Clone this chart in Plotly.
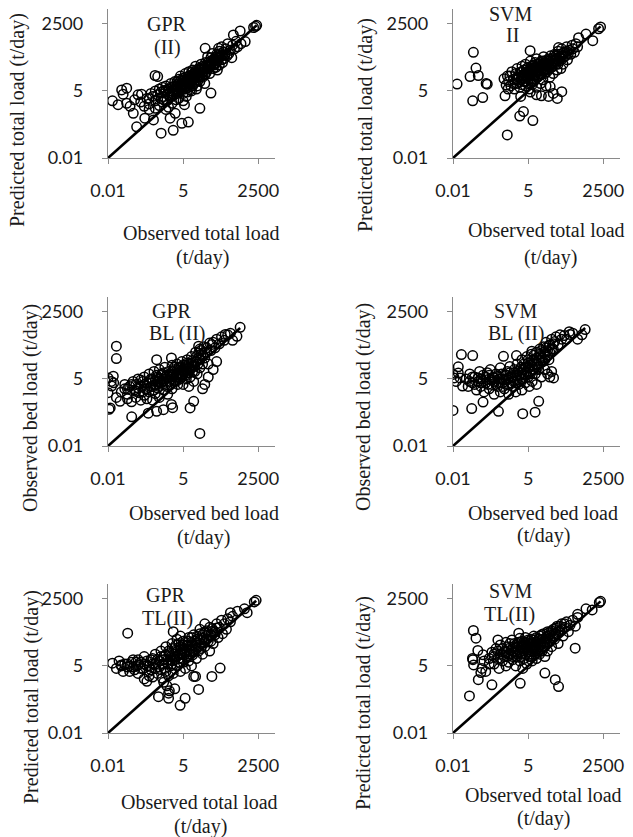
import plotly.graph_objects as go

# ---------------- data (observed, predicted) ----------------
gpr_ii = [
    (0.0144, 2.0), (0.031, 5.5), (0.047, 6.5), (0.035, 3.7), (0.047, 1.6), (0.023, 1.4), (0.062, 1.2),
    (0.12, 3.5), (0.16, 3.7), (0.081, 0.63), (0.107, 0.18), (0.21, 0.4), (0.43, 0.34), (0.49, 21),
    (0.61, 19), (0.81, 0.1), (1.7, 0.4), (2.2, 0.13), (2.6, 0.63), (4.5, 0.25), (7.7, 0.28), (5.6, 1.4),
    (20, 1.0), (50, 4.1), (31, 260), (94, 260), (320, 900), (560, 1300), (850, 490), (1700, 1800),
    (2000, 2000), (0.09, 2.2), (0.2, 1.2), (0.3, 0.9), (0.15, 1.8), (0.25, 2.5),
    (0.3, 1.5), (0.5, 1.0), (0.7, 1.3), (1.2, 0.9), (1.5, 1.1), (0.9, 1.8),
    (0.3, 2.5), (0.35, 4), (0.4, 3), (0.5, 5), (0.5, 2), (0.6, 3.5), (0.7, 6), (0.8, 2.5), (0.8, 4.5),
    (0.9, 7), (1, 3), (1, 5), (1.2, 8), (1.3, 2), (1.4, 4), (1.5, 6), (1.7, 3), (1.8, 10), (2, 5),
    (2, 1.6), (2.2, 7), (2.4, 3.5), (2.5, 12), (2.7, 6), (3, 4), (3, 9), (3.5, 15), (3.5, 2.5), (4, 6),
    (4, 20), (4.5, 10), (5, 4), (5, 8), (5.5, 14), (6, 25), (6, 6), (6.5, 3), (7, 11), (7.5, 18), (8, 7),
    (8, 30), (9, 13), (10, 5), (10, 20), (11, 35), (12, 10), (13, 16), (14, 50), (15, 25), (16, 8),
    (18, 20), (20, 40), (20, 12), (22, 60), (25, 30), (25, 18), (28, 45), (30, 10), (32, 70), (35, 30),
    (38, 120), (40, 50), (45, 25), (50, 80), (55, 160), (60, 40), (65, 100), (70, 60), (80, 150),
    (85, 35), (90, 90), (100, 200), (100, 55), (110, 120), (120, 300), (130, 70), (140, 180), (150, 100),
    (170, 250), (190, 130), (200, 400), (220, 160), (250, 220), (280, 110), (300, 350), (350, 250),
    (400, 500), (450, 300), (600, 400), (2200, 2200), (1.1, 4.5), (2.8, 2.2), (3.8, 8), (6, 12),
    (9, 5.5), (12, 25), (17, 13), (30, 22), (45, 60), (75, 45), (120, 90), (160, 140), (5, 2), (2, 3),
    (7, 4.5), (15, 6),
    (1, 2.2), (1.2, 5.5), (1.5, 3.5), (1.8, 7), (2, 4), (2.5, 5), (2.5, 8), (3, 6), (3, 12), (3.5, 5),
    (3.5, 10), (4, 8), (4, 13), (4.5, 5.5), (5, 12), (5, 16), (5.5, 7), (6, 9), (6, 18), (7, 8), (7, 14),
    (8, 10), (8, 20), (9, 9), (9, 16), (10, 12), (10, 28), (11, 8), (12, 15), (12, 20), (13, 28),
    (14, 12), (15, 18), (15, 35), (17, 25), (18, 40), (20, 18), (20, 28), (22, 35), (24, 22), (25, 50),
    (28, 30), (30, 40), (32, 25), (35, 55), (38, 40), (40, 70), (45, 45), (50, 55), (50, 110), (55, 70),
    (60, 90), (65, 55), (70, 85), (75, 120), (80, 70), (90, 130), (100, 110), (110, 160), (130, 140),
]

svm_ii = [
    (0.014, 9.5), (0.054, 180), (0.067, 42), (0.041, 19), (0.081, 21), (0.155, 10), (0.17, 9.4),
    (0.051, 2.0), (0.117, 2.7), (0.68, 15.5), (0.81, 8.7), (0.74, 3.2), (0.89, 0.085), (2.5, 0.49),
    (3.4, 0.74), (7.4, 0.32), (2.7, 3.0), (5.9, 210), (10, 3.5), (27, 3.0), (56, 2.5), (81, 4.7),
    (31, 7.5), (62, 280), (325, 700), (600, 980), (1050, 530), (1700, 1600), (2000, 1900), (15, 3.2),
    (40, 4), (6, 4.5), (0.9, 20), (0.95, 6),
    (1, 12), (1.1, 20), (1.2, 8), (1.3, 30), (1.5, 15), (1.6, 6), (1.8, 25), (2, 10), (2, 40), (2.2, 18),
    (2.5, 7), (2.5, 28), (2.8, 14), (3, 50), (3, 9), (3.2, 22), (3.5, 35), (3.5, 12), (4, 8), (4, 60),
    (4.5, 18), (4.5, 30), (5, 10), (5, 45), (5.5, 6), (5.5, 25), (6, 80), (6, 15), (7, 35), (7, 9),
    (7.5, 55), (8, 20), (8, 12), (9, 70), (9, 30), (10, 7), (10, 45), (10, 100), (11, 18), (12, 60),
    (13, 25), (14, 10), (15, 80), (16, 40), (17, 14), (18, 120), (20, 55), (20, 25), (22, 8), (24, 90),
    (25, 35), (28, 60), (30, 18), (32, 130), (35, 45), (38, 80), (40, 25), (45, 150), (50, 60),
    (50, 100), (55, 35), (60, 200), (65, 80), (70, 120), (75, 40), (80, 250), (85, 100), (90, 60),
    (100, 180), (110, 130), (120, 300), (130, 90), (150, 220), (170, 150), (190, 350), (200, 250),
    (230, 180), (260, 400), (300, 300),
    (1.5, 10), (2, 15), (2.5, 12), (3, 18), (3, 30), (3.5, 20), (4, 12), (4, 25), (4.5, 40), (5, 15),
    (5, 30), (5.5, 20), (6, 25), (6, 40), (6.5, 12), (7, 20), (7, 50), (8, 15), (8, 35), (9, 22), (9, 45),
    (10, 30), (10, 60), (11, 40), (12, 20), (12, 35), (13, 50), (14, 70), (15, 25), (15, 45), (16, 60),
    (18, 35), (18, 80), (20, 40), (20, 70), (22, 50), (24, 30), (25, 60), (28, 80), (30, 45), (30, 100),
    (35, 70), (40, 50), (40, 110), (45, 80), (50, 130), (55, 90), (60, 60), (65, 150), (70, 100),
    (80, 130), (90, 170), (100, 120), (120, 200), (140, 160),
]

gpr_bl = [
    (0.02, 105), (0.02, 33), (0.01, 5.5), (0.0155, 6.5), (0.0135, 2.6), (0.01, 1.4), (0.012, 0.34),
    (0.011, 0.3), (0.013, 4), (0.016, 3.5), (0.027, 0.63), (0.071, 0.15), (0.28, 0.21), (0.56, 0.25),
    (0.98, 0.29), (1.9, 0.47), (2.1, 0.35), (8.9, 0.34), (12, 0.63), (20, 0.032), (0.56, 30), (1.9, 35),
    (18, 105), (54, 123), (163, 310), (430, 260), (560, 600), (300, 180), (0.03, 1.5), (0.04, 2),
    (0.02, 0.9), (0.05, 0.8),
    (0.04, 3), (0.05, 1.2), (0.06, 2.5), (0.07, 0.6), (0.08, 4), (0.09, 1.8), (0.1, 0.9), (0.1, 3),
    (0.12, 5), (0.13, 1.4), (0.15, 0.7), (0.15, 2.5), (0.18, 4), (0.2, 1.1), (0.2, 6), (0.22, 2),
    (0.25, 0.8), (0.25, 3.5), (0.3, 1.5), (0.3, 8), (0.35, 5), (0.4, 2.5), (0.4, 0.7), (0.45, 10),
    (0.5, 4), (0.5, 1.3), (0.6, 6), (0.6, 2.2), (0.7, 12), (0.7, 0.9), (0.8, 3.5), (0.9, 8), (1, 1.8),
    (1, 5), (1.1, 15), (1.2, 3), (1.3, 7), (1.4, 1.2), (1.5, 10), (1.6, 4), (1.8, 6), (2, 2), (2, 18),
    (2.2, 8), (2.5, 4), (2.5, 12), (2.8, 6), (3, 20), (3.2, 3), (3.5, 9), (4, 5), (4, 14), (4.5, 25),
    (5, 7), (5, 3), (5.5, 11), (6, 18), (6.5, 5), (7, 30), (7, 9), (8, 14), (8, 2.5), (9, 6), (10, 22),
    (10, 40), (11, 10), (12, 4), (13, 16), (14, 60), (15, 25), (16, 8), (18, 35), (20, 14), (20, 80),
    (22, 50), (25, 20), (28, 100), (30, 35), (35, 60), (40, 20), (45, 140), (50, 70), (60, 150),
    (70, 90), (80, 200), (100, 130), (120, 250), (150, 180), (200, 300), (250, 350), (30, 3), (40, 6),
    (25, 2), (60, 12), (80, 25),
    (0.05, 2), (0.07, 3), (0.1, 1.6), (0.12, 2.2), (0.15, 4.5), (0.18, 1.5), (0.2, 3), (0.25, 2),
    (0.3, 4), (0.35, 2.5), (0.4, 5), (0.45, 1.8), (0.5, 3), (0.55, 7), (0.6, 4), (0.7, 2.5), (0.7, 5),
    (0.8, 7), (0.9, 3), (1, 4), (1, 9), (1.2, 5), (1.3, 2.5), (1.5, 6), (1.7, 8), (1.8, 3), (2, 5),
    (2, 10), (2.3, 7), (2.5, 15), (2.8, 4), (3, 6), (3, 11), (3.5, 7), (3.5, 15), (4, 9), (4.5, 6),
    (4.5, 12), (5, 10), (5, 18), (6, 7), (6, 12), (7, 15), (7, 22), (8, 9), (8, 20), (9, 12), (10, 16),
    (11, 28), (12, 18), (13, 10), (14, 25), (15, 40), (17, 20), (18, 55), (20, 30), (22, 70), (25, 45),
    (30, 60), (35, 90),
]

svm_bl = [
    (0.01, 0.27), (0.02, 48), (0.051, 44), (0.0155, 15.5), (0.0155, 8.7), (0.01, 7.6), (0.013, 4),
    (0.018, 5.5), (0.022, 2.6), (0.047, 0.32), (0.12, 0.59), (0.43, 0.25), (0.65, 41), (1.9, 44),
    (3.2, 0.2), (8.9, 0.23), (12, 0.63), (6.8, 66), (41, 5.5), (560, 490), (430, 300), (160, 310),
    (300, 200), (0.011, 5.5),
    (0.03, 5), (0.035, 2.5), (0.04, 8), (0.05, 3.5), (0.06, 6), (0.07, 1.8), (0.08, 4), (0.09, 10),
    (0.1, 2.5), (0.1, 5), (0.12, 7), (0.13, 1.5), (0.15, 3.5), (0.17, 9), (0.2, 2), (0.2, 5), (0.22, 12),
    (0.25, 3), (0.28, 6), (0.3, 1.2), (0.3, 4), (0.35, 8), (0.4, 2.5), (0.45, 5), (0.5, 14), (0.5, 1.5),
    (0.6, 3.5), (0.65, 7), (0.7, 2), (0.8, 5), (0.9, 10), (1, 1.2), (1, 3), (1.1, 16), (1.2, 6),
    (1.4, 2.5), (1.5, 9), (1.7, 4), (1.8, 1.5), (2, 7), (2, 20), (2.3, 3), (2.5, 12), (2.8, 5), (3, 30),
    (3, 1.8), (3.5, 8), (4, 15), (4, 3.5), (4.5, 40), (5, 6), (5, 22), (5.5, 2.5), (6, 10), (6.5, 50),
    (7, 4), (7, 16), (8, 30), (9, 8), (10, 60), (10, 3), (11, 20), (12, 12), (13, 80), (14, 40), (15, 6),
    (17, 25), (18, 100), (20, 50), (20, 12), (22, 150), (25, 70), (28, 30), (30, 120), (35, 200),
    (40, 80), (45, 160), (50, 250), (60, 120), (70, 300), (80, 200), (100, 280), (120, 200), (150, 400),
    (200, 350), (25, 8), (30, 6), (35, 10),
    (0.04, 4), (0.05, 6), (0.06, 3), (0.08, 5.5), (0.1, 3.5), (0.12, 4), (0.15, 6), (0.18, 3), (0.2, 7),
    (0.25, 4.5), (0.3, 5.5), (0.35, 3), (0.4, 6.5), (0.45, 3.5), (0.5, 5), (0.55, 8), (0.6, 2.5),
    (0.7, 4.5), (0.8, 7), (0.9, 3), (1, 5.5), (1.1, 9), (1.2, 3.5), (1.3, 6), (1.5, 4), (1.6, 12),
    (1.8, 7), (2, 4.5), (2.2, 10), (2.5, 7), (2.8, 15), (3, 5), (3, 9), (3.5, 12), (3.5, 20), (4, 7),
    (4.5, 10), (5, 14), (5, 30), (6, 18), (6, 8), (7, 25), (8, 12), (8, 45), (9, 20), (10, 35), (11, 15),
    (12, 28), (13, 50), (14, 22), (15, 70), (16, 35), (18, 60), (20, 30), (22, 90), (25, 45), (28, 110),
    (30, 60), (35, 80), (40, 130),
]

gpr_tl = [
    (0.0144, 6.5), (0.03, 5), (0.035, 3), (0.05, 4.5), (0.051, 105), (0.07, 7), (0.09, 3.5), (0.12, 9),
    (0.2, 1.5), (0.25, 1.2), (0.3, 2), (0.65, 0.29), (1.5, 0.4), (1.5, 0.25), (1.6, 0.5), (3.9, 0.13),
    (5.9, 0.25), (18, 0.57), (12, 1.9), (14, 1.9), (54, 1.9), (107, 4.1), (2.2, 120), (4, 80), (20, 150),
    (30, 250), (250, 700), (450, 800), (1000, 700), (1800, 1900), (2100, 2200), (800, 1000), (1.3, 0.8),
    (1, 1.1), (2.5, 0.6),
    (0.02, 4), (0.025, 8), (0.04, 6), (0.06, 3), (0.08, 9), (0.1, 5), (0.12, 2.5), (0.15, 7), (0.18, 4),
    (0.2, 12), (0.25, 5), (0.3, 3), (0.35, 9), (0.4, 1.8), (0.4, 6), (0.5, 4), (0.5, 15), (0.6, 2.5),
    (0.7, 8), (0.8, 20), (0.8, 3.5), (0.9, 1.6), (1, 6), (1, 12), (1.2, 30), (1.2, 3), (1.4, 9), (1.5, 2),
    (1.6, 16), (1.8, 5), (2, 40), (2, 8), (2.2, 2.5), (2.5, 12), (2.8, 22), (3, 5), (3, 60), (3.5, 10),
    (4, 3), (4, 30), (4.5, 15), (5, 7), (5, 50), (5.5, 20), (6, 4), (6.5, 12), (7, 35), (8, 8), (8, 70),
    (9, 20), (10, 5), (10, 45), (11, 14), (12, 90), (13, 30), (15, 10), (16, 60), (18, 20), (20, 100),
    (22, 40), (25, 15), (28, 70), (30, 30), (35, 130), (40, 50), (45, 20), (50, 90), (55, 160), (60, 40),
    (70, 120), (80, 250), (90, 70), (100, 180), (120, 350), (130, 100), (150, 250), (180, 150),
    (200, 400), (250, 300), (300, 500),
    (0.03, 5.5), (0.05, 6), (0.06, 5), (0.08, 4.5), (0.1, 7), (0.12, 5.5), (0.15, 4), (0.2, 6), (0.25, 8),
    (0.3, 5), (0.35, 3.5), (0.4, 10), (0.5, 6), (0.6, 9), (0.7, 4.5), (0.8, 12), (0.9, 6), (1, 9),
    (1.1, 4), (1.2, 14), (1.4, 6), (1.5, 20), (1.7, 9), (1.8, 12), (2, 6), (2, 25), (2.3, 15), (2.5, 9),
    (2.8, 35), (3, 12), (3.2, 20), (3.5, 7), (3.5, 40), (4, 15), (4, 22), (4.5, 10), (5, 25), (5, 35),
    (5.5, 14), (6, 18), (6, 45), (7, 22), (7, 12), (8, 30), (8, 50), (9, 15), (10, 25), (10, 70),
    (11, 35), (12, 18), (13, 50), (14, 25), (15, 40), (16, 80), (18, 30), (20, 55), (22, 25), (25, 90),
    (28, 45), (30, 120), (35, 60), (40, 90), (45, 180), (50, 50), (60, 130), (70, 90), (80, 170),
]

svm_tl = [
    (0.039, 0.31), (0.054, 134), (0.067, 66), (0.078, 21), (0.05, 10), (0.055, 5.5), (0.052, 9),
    (0.081, 1.4), (0.1, 2.7), (0.11, 4), (0.25, 0.87), (2.6, 1), (2.3, 105), (20, 2.6), (47, 1.4),
    (62, 0.74), (245, 26), (0.41, 56), (300, 600), (600, 1000), (1000, 900), (1800, 1800), (2000, 2000),
    (0.15, 3), (0.2, 6), (0.13, 8), (0.3, 12), (0.12, 14),
    (0.2, 10), (0.25, 18), (0.3, 6), (0.35, 25), (0.4, 10), (0.45, 4), (0.5, 15), (0.5, 35), (0.6, 8),
    (0.7, 20), (0.8, 5), (0.8, 45), (0.9, 12), (1, 25), (1, 7), (1.2, 15), (1.3, 55), (1.4, 9), (1.5, 30),
    (1.7, 18), (1.8, 5), (2, 40), (2, 12), (2.2, 22), (2.5, 8), (2.5, 65), (2.8, 30), (3, 15), (3.2, 4),
    (3.5, 45), (3.5, 10), (4, 25), (4, 70), (4.5, 6), (5, 18), (5, 35), (5.5, 12), (6, 50), (6.5, 25),
    (7, 8), (7, 15), (8, 80), (8, 30), (9, 20), (10, 45), (10, 10), (11, 25), (12, 60), (13, 15),
    (14, 35), (15, 90), (16, 20), (18, 50), (20, 12), (20, 30), (22, 70), (25, 120), (25, 20), (28, 45),
    (30, 90), (35, 30), (40, 150), (45, 60), (50, 100), (55, 200), (60, 40), (70, 130), (80, 250),
    (90, 80), (100, 180), (120, 300), (140, 120), (160, 220), (200, 350), (250, 200), (300, 450),
    (0.3, 15), (0.4, 20), (0.5, 10), (0.6, 25), (0.7, 12), (0.8, 18), (0.9, 30), (1, 15), (1.1, 40),
    (1.2, 22), (1.4, 12), (1.5, 18), (1.6, 40), (1.8, 25), (2, 15), (2, 30), (2.3, 45), (2.5, 18),
    (2.8, 12), (3, 25), (3, 50), (3.5, 20), (3.5, 35), (4, 15), (4, 45), (4.5, 30), (5, 22), (5, 55),
    (5.5, 40), (6, 15), (6, 30), (6.5, 60), (7, 20), (7, 40), (8, 25), (8, 55), (9, 35), (9, 15),
    (10, 25), (10, 70), (11, 40), (12, 30), (13, 80), (14, 20), (15, 45), (16, 60), (18, 30), (18, 100),
    (20, 45), (22, 60), (25, 40), (25, 80), (28, 110), (30, 60), (35, 130), (40, 80), (45, 110),
    (50, 170), (60, 120), (70, 200), (80, 150), (100, 250),
]

panel_data = [gpr_ii, svm_ii, gpr_bl, svm_bl, gpr_tl, svm_tl]
panel_labels = [("GPR", "(II)"), ("SVM", "II"), ("GPR", "BL (II)"),
                ("SVM", "BL (II)"), ("GPR", "TL(II)"), ("SVM", "TL(II)")]
y_titles = ["Predicted total load (t/day)", "Predicted total load (t/day)",
            "Observed bed load (t/day)", "Observed bed load (t/day)",
            "Predicted total load (t/day)", "Predicted total load (t/day)"]
x_titles = [("Observed total load", "(t/day)"), ("Observed total load", "(t/day)"),
            ("Observed bed load", "(t/day)"), ("Observed bed load", "(t/day)"),
            ("Observed total load", "(t/day)"), ("Observed total load", "(t/day)")]
tick_vals = [0.01, 5, 2500]
tick_text = ["0.01", "5", "2500"]

# ---------------- layout geometry ----------------
W, H = 633, 837
xdom = [[108 / W, 275 / W], [453 / W, 620 / W]]
ydom = [[1 - 158 / H, 1 - 9 / H], [1 - 446 / H, 1 - 297 / H], [1 - 733 / H, 1 - 584 / H]]

label_pos = [((167, 24), (167, 47)), ((511, 14), (512, 35)), ((172, 311), (177, 334)),
             ((516, 311), (516, 334)), ((166, 595), (167, 618)), ((511, 591), (509, 614))]
ytitle_pos = [(17, 120), (365, 125), (31, 408), (363, 407), (31, 697), (363, 703)]
xtitle_pos = [((201, 233), (202, 257)), ((546, 230), (550, 257)), ((204, 513), (203, 537)),
              ((543, 513), (543, 535)), ((199, 802), (200, 826)), ((543, 795), (543, 818))]

serif = "Liberation Serif, Times New Roman, serif"
sans = "Lato, Open Sans, sans-serif"
axis_col = "#8a8a8a"
txt_col = "#1a1a1a"

fig = go.Figure()
annotations = []
layout = dict(width=W, height=H, margin=dict(l=0, r=0, t=0, b=0),
              paper_bgcolor="white", plot_bgcolor="white", showlegend=False)


def note(text, px, py, angle=0):
    return dict(text=text, x=px / W, y=1 - py / H, xref="paper", yref="paper",
                xanchor="center", yanchor="middle", textangle=angle, showarrow=False,
                font=dict(family=serif, size=20, color=txt_col))


for i, pts in enumerate(panel_data):
    r, c = divmod(i, 2)
    n = i + 1
    xs = "" if n == 1 else str(n)
    obs = [p[0] for p in pts]
    pred = [p[1] for p in pts]
    fig.add_trace(go.Scatter(
        x=obs, y=pred, mode="markers", xaxis="x" + xs, yaxis="y" + xs,
        marker=dict(symbol="circle-open", size=9.5, color="black", line=dict(width=1.5, color="black")),
        hoverinfo="skip"))
    hi = max(obs)
    fig.add_trace(go.Scatter(
        x=[0.01, hi], y=[0.01, hi], mode="lines", xaxis="x" + xs, yaxis="y" + xs,
        line=dict(color="black", width=2.6), hoverinfo="skip"))
    common = dict(type="log", range=[-2, 4], tickvals=tick_vals, ticktext=tick_text, automargin=False,
                  showgrid=False, zeroline=False, showline=True, linecolor=axis_col, linewidth=1.3,
                  ticks="outside", ticklen=5, tickcolor=axis_col, tickwidth=1.2,
                  tickfont=dict(family=sans, size=18, color=txt_col))
    layout["xaxis" + xs] = dict(common, domain=xdom[c], anchor="y" + xs, ticklabelstandoff=11)
    layout["yaxis" + xs] = dict(common, domain=ydom[r], anchor="x" + xs, ticklabelstandoff=15)

    (l1x, l1y), (l2x, l2y) = label_pos[i]
    annotations.append(note(panel_labels[i][0], l1x, l1y))
    annotations.append(note(panel_labels[i][1], l2x, l2y))
    yx, yy = ytitle_pos[i]
    annotations.append(note(y_titles[i], yx, yy, -90))
    (ax, ay), (bx, by) = xtitle_pos[i]
    annotations.append(note(x_titles[i][0], ax, ay))
    annotations.append(note(x_titles[i][1], bx, by))

layout["annotations"] = annotations
fig.update_layout(**layout)
fig.write_html("out.html")
